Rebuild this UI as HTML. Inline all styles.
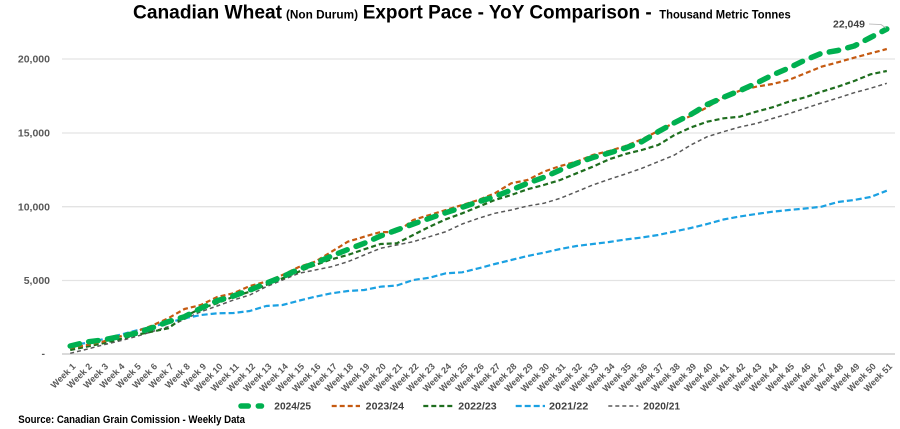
<!DOCTYPE html>
<html><head><meta charset="utf-8">
<style>
html,body{margin:0;padding:0;background:#fff;}
svg{display:block;font-family:"Liberation Sans",Arial,sans-serif;}
</style></head>
<body>
<svg width="900" height="429" viewBox="0 0 900 429" xmlns="http://www.w3.org/2000/svg">
<rect width="900" height="429" fill="#fff"/>
<!-- Title -->
<g font-weight="bold" fill="#000">
<text x="133" y="18.3" font-size="19.5" textLength="149" lengthAdjust="spacingAndGlyphs">Canadian Wheat</text>
<text x="286" y="18.3" font-size="11.5" textLength="72" lengthAdjust="spacingAndGlyphs">(Non Durum)</text>
<text x="362.7" y="18.3" font-size="19.5" textLength="289" lengthAdjust="spacingAndGlyphs">Export Pace - YoY Comparison -</text>
<text x="659.3" y="18.3" font-size="11.5" textLength="131.4" lengthAdjust="spacingAndGlyphs">Thousand Metric Tonnes</text>
</g>
<!-- gridlines -->
<g stroke="#e3e3e3" stroke-width="1.3">
<line x1="62" y1="59" x2="895" y2="59"/>
<line x1="62" y1="133" x2="895" y2="133"/>
<line x1="62" y1="206.7" x2="895" y2="206.7"/>
<line x1="62" y1="280.5" x2="895" y2="280.5"/>
</g>
<line x1="62" y1="354" x2="895" y2="354" stroke="#dadada" stroke-width="2"/>
<!-- y labels -->
<g font-size="10.5" font-weight="bold" fill="#595959" text-anchor="end">
<text x="50" y="62.6">20,000</text>
<text x="50" y="136.6">15,000</text>
<text x="50" y="210.3">10,000</text>
<text x="50" y="284.1">5,000</text>
<text x="45" y="357">-</text>
</g>
<!-- series -->
<g fill="none" stroke-linejoin="round">
<polyline stroke="#595959" stroke-width="1.5" stroke-dasharray="4 3" points="70.2,353.3 86.5,349.3 102.8,345 119.2,341 135.5,336.7 151.8,331.7 168.2,326.7 184.5,319.3 200.8,311.7 217.2,306 233.5,300 249.8,295 266.2,286.7 282.5,280 298.8,273.3 315.2,270 331.5,266.7 347.8,261.7 364.2,255 380.5,248.3 396.8,245 413.2,241.7 429.5,236.7 445.8,231.7 462.2,224 478.5,218.3 494.8,213.3 511.2,210 527.5,206 543.8,203.3 560.2,198.3 576.5,191.7 592.8,185 609.2,179.3 625.5,174 641.8,168.3 658.2,161.7 674.5,155 690.8,145 707.2,136.7 723.5,131.7 739.8,127 756.2,123.5 772.5,118.5 788.8,113.7 805.2,108.3 821.5,103 837.8,98 854.2,92.7 870.5,88.3 886.8,83.3"/>
<polyline stroke="#1BA1E2" stroke-width="2.2" stroke-dasharray="6 3" points="70.2,345 86.5,343 102.8,339.3 119.2,335 135.5,330.7 151.8,326.7 168.2,322.7 184.5,318.3 200.8,315 217.2,313.3 233.5,313 249.8,311 266.2,306 282.5,305 298.8,300.7 315.2,296.7 331.5,293.3 347.8,291 364.2,290 380.5,286.7 396.8,285.5 413.2,280 429.5,277.7 445.8,273.3 462.2,272.3 478.5,268.3 494.8,264 511.2,260 527.5,256 543.8,252.7 560.2,249 576.5,246 592.8,244 609.2,242 625.5,239.5 641.8,237.5 658.2,235 674.5,231.5 690.8,228 707.2,224 723.5,219.5 739.8,216.5 756.2,214 772.5,211.7 788.8,210 805.2,208.5 821.5,206.7 837.8,202 854.2,200 870.5,197 886.8,190.7"/>
<polyline stroke="#1F6E1F" stroke-width="2.2" stroke-dasharray="5 3" points="70.2,350 86.5,346.7 102.8,343.3 119.2,339.3 135.5,335 151.8,331.7 168.2,328.3 184.5,316.7 200.8,308.3 217.2,303.3 233.5,296.7 249.8,291.7 266.2,285 282.5,278.3 298.8,271.7 315.2,265 331.5,259.3 347.8,255 364.2,249.3 380.5,244 396.8,243.3 413.2,235 429.5,226.7 445.8,219.3 462.2,213.3 478.5,206.7 494.8,200 511.2,195 527.5,189.3 543.8,185 560.2,180 576.5,173.3 592.8,166.7 609.2,159.3 625.5,154 641.8,150 658.2,145 674.5,135 690.8,127.5 707.2,121.7 723.5,118.3 739.8,116.7 756.2,111.7 772.5,107.3 788.8,101.7 805.2,97.3 821.5,91.7 837.8,86.7 854.2,81 870.5,74.3 886.8,71"/>
<polyline stroke="#C55A11" stroke-width="2.2" stroke-dasharray="5 3" points="70.2,348 86.5,345 102.8,341.7 119.2,336.7 135.5,331.7 151.8,325.7 168.2,318.3 184.5,309 200.8,305 217.2,297 233.5,293.3 249.8,286 266.2,281.7 282.5,275 298.8,267 315.2,261.7 331.5,251.7 347.8,241.7 364.2,236.7 380.5,232 396.8,232.3 413.2,220 429.5,215 445.8,210 462.2,205 478.5,200 494.8,193.3 511.2,183.3 527.5,180 543.8,171.7 560.2,166 576.5,161.7 592.8,155 609.2,151 625.5,146 641.8,139.3 658.2,131 674.5,122.7 690.8,116 707.2,107.3 723.5,97.3 739.8,90.7 756.2,86.7 772.5,84 788.8,80 805.2,73.3 821.5,66.7 837.8,62.3 854.2,57.7 870.5,53.3 886.8,49"/>
<polyline stroke="#00B050" stroke-width="5.5" stroke-linecap="round" stroke-dasharray="9.5 9.5" points="70.2,346 86.5,342 102.8,340 119.2,336.7 135.5,333.3 151.8,328 168.2,321.7 184.5,316.7 200.8,308.3 217.2,300.7 233.5,296 249.8,290 266.2,283.3 282.5,276.7 298.8,269.3 315.2,263.3 331.5,256 347.8,249.5 364.2,243.3 380.5,236 396.8,230 413.2,224 429.5,218.3 445.8,212.7 462.2,207.3 478.5,201.7 494.8,196.7 511.2,190 527.5,183.3 543.8,177.3 560.2,170 576.5,163.3 592.8,157.5 609.2,153 625.5,148 641.8,141.7 658.2,131.7 674.5,122.7 690.8,114.5 707.2,104.5 723.5,97.3 739.8,90.7 756.2,83.3 772.5,75 788.8,68 805.2,60 821.5,53.3 837.8,50.5 854.2,46 870.5,37.5 886.8,29"/>
</g>
<!-- data label -->
<polyline points="869,24 881,24.5 886,28" fill="none" stroke="#b0b0b0" stroke-width="0.8"/>
<text x="833" y="27.3" font-size="10" font-weight="bold" fill="#404040" textLength="32" lengthAdjust="spacingAndGlyphs">22,049</text>
<!-- x tick labels -->
<g font-size="9" font-weight="bold" fill="#595959" text-anchor="end">
<text transform="translate(76.2,367) rotate(-45)">Week 1</text>
<text transform="translate(92.5,367) rotate(-45)">Week 2</text>
<text transform="translate(108.8,367) rotate(-45)">Week 3</text>
<text transform="translate(125.2,367) rotate(-45)">Week 4</text>
<text transform="translate(141.5,367) rotate(-45)">Week 5</text>
<text transform="translate(157.8,367) rotate(-45)">Week 6</text>
<text transform="translate(174.2,367) rotate(-45)">Week 7</text>
<text transform="translate(190.5,367) rotate(-45)">Week 8</text>
<text transform="translate(206.8,367) rotate(-45)">Week 9</text>
<text transform="translate(223.2,367) rotate(-45)">Week 10</text>
<text transform="translate(239.5,367) rotate(-45)">Week 11</text>
<text transform="translate(255.8,367) rotate(-45)">Week 12</text>
<text transform="translate(272.2,367) rotate(-45)">Week 13</text>
<text transform="translate(288.5,367) rotate(-45)">Week 14</text>
<text transform="translate(304.8,367) rotate(-45)">Week 15</text>
<text transform="translate(321.2,367) rotate(-45)">Week 16</text>
<text transform="translate(337.5,367) rotate(-45)">Week 17</text>
<text transform="translate(353.8,367) rotate(-45)">Week 18</text>
<text transform="translate(370.2,367) rotate(-45)">Week 19</text>
<text transform="translate(386.5,367) rotate(-45)">Week 20</text>
<text transform="translate(402.8,367) rotate(-45)">Week 21</text>
<text transform="translate(419.2,367) rotate(-45)">Week 22</text>
<text transform="translate(435.5,367) rotate(-45)">Week 23</text>
<text transform="translate(451.8,367) rotate(-45)">Week 24</text>
<text transform="translate(468.2,367) rotate(-45)">Week 25</text>
<text transform="translate(484.5,367) rotate(-45)">Week 26</text>
<text transform="translate(500.8,367) rotate(-45)">Week 27</text>
<text transform="translate(517.2,367) rotate(-45)">Week 28</text>
<text transform="translate(533.5,367) rotate(-45)">Week 29</text>
<text transform="translate(549.8,367) rotate(-45)">Week 30</text>
<text transform="translate(566.2,367) rotate(-45)">Week 31</text>
<text transform="translate(582.5,367) rotate(-45)">Week 32</text>
<text transform="translate(598.8,367) rotate(-45)">Week 33</text>
<text transform="translate(615.2,367) rotate(-45)">Week 34</text>
<text transform="translate(631.5,367) rotate(-45)">Week 35</text>
<text transform="translate(647.8,367) rotate(-45)">Week 36</text>
<text transform="translate(664.2,367) rotate(-45)">Week 37</text>
<text transform="translate(680.5,367) rotate(-45)">Week 38</text>
<text transform="translate(696.8,367) rotate(-45)">Week 39</text>
<text transform="translate(713.2,367) rotate(-45)">Week 40</text>
<text transform="translate(729.5,367) rotate(-45)">Week 41</text>
<text transform="translate(745.8,367) rotate(-45)">Week 42</text>
<text transform="translate(762.2,367) rotate(-45)">Week 43</text>
<text transform="translate(778.5,367) rotate(-45)">Week 44</text>
<text transform="translate(794.8,367) rotate(-45)">Week 45</text>
<text transform="translate(811.2,367) rotate(-45)">Week 46</text>
<text transform="translate(827.5,367) rotate(-45)">Week 47</text>
<text transform="translate(843.8,367) rotate(-45)">Week 48</text>
<text transform="translate(860.2,367) rotate(-45)">Week 49</text>
<text transform="translate(876.5,367) rotate(-45)">Week 50</text>
<text transform="translate(892.8,367) rotate(-45)">Week 51</text>
</g>
<!-- legend -->
<g fill="none">
<line x1="241" y1="406" x2="261.5" y2="406" stroke="#00B050" stroke-width="5.5" stroke-linecap="round" stroke-dasharray="7.3 10"/>
<line x1="331.7" y1="406" x2="360" y2="406" stroke="#C55A11" stroke-width="2.2" stroke-dasharray="5 3"/>
<line x1="423.3" y1="406" x2="452.7" y2="406" stroke="#1F6E1F" stroke-width="2.2" stroke-dasharray="5 3"/>
<line x1="515.7" y1="406" x2="545" y2="406" stroke="#1BA1E2" stroke-width="2.2" stroke-dasharray="6 3"/>
<line x1="608.3" y1="406" x2="638.3" y2="406" stroke="#595959" stroke-width="1.5" stroke-dasharray="4 3"/>
</g>
<g font-size="10.5" font-weight="bold" fill="#404040">
<text x="274.3" y="409.7" textLength="36.7" lengthAdjust="spacingAndGlyphs">2024/25</text>
<text x="365.7" y="409.7" textLength="38.3" lengthAdjust="spacingAndGlyphs">2023/24</text>
<text x="458.3" y="409.7" textLength="38.4" lengthAdjust="spacingAndGlyphs">2022/23</text>
<text x="549" y="409.7" textLength="39.3" lengthAdjust="spacingAndGlyphs">2021/22</text>
<text x="643.3" y="409.7" textLength="36.7" lengthAdjust="spacingAndGlyphs">2020/21</text>
</g>
<!-- source -->
<text x="18.3" y="423.2" font-size="11" font-weight="bold" fill="#000" textLength="226.7" lengthAdjust="spacingAndGlyphs">Source: Canadian Grain Comission - Weekly Data</text>
</svg>
</body></html>
